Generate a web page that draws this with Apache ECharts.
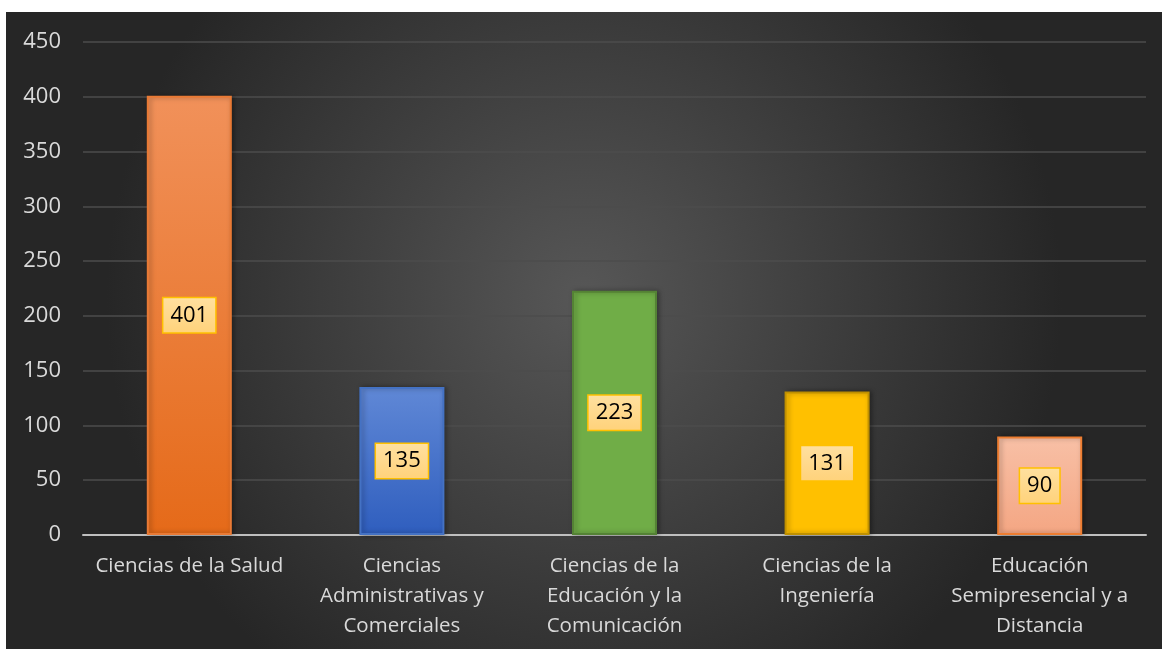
<!DOCTYPE html>
<html><head><meta charset="utf-8">
<script src="https://cdn.jsdelivr.net/npm/echarts@6/dist/echarts.min.js"></script>
<style>
html,body{margin:0;padding:0;background:#fff;width:1162px;height:649px;overflow:hidden;}
#c{position:absolute;left:6px;top:12px;width:1156px;height:637px;}
</style></head><body>
<div id="c"></div>
<script>
const categories = ["Ciencias de la Salud","Ciencias\nAdministrativas y\nComerciales","Ciencias de la\nEducación y la\nComunicación","Ciencias de la\nIngeniería","Educación\nSemipresencial y a\nDistancia"];
const values = [401, 135, 223, 131, 90];
const yTicks = {min:0, max:450, interval:50};

const barStyles = [
  {top:'#F1915A', bottom:'#E56A19', border:'#E97A35'},
  {top:'#6088D6', bottom:'#2F5EBE', border:'#4472C4'},
  {top:'#70AD47', bottom:'#70AD47', border:'#548235'},
  {top:'#FFC000', bottom:'#FFC000', border:'#BF9000'},
  {top:'#F8C0A6', bottom:'#F4A683', border:'#ED7D31'}
];
const chart = echarts.init(document.getElementById('c'));
chart.setOption({
  backgroundColor: {type:'radial', x:0.5, y:0.45, r:0.75, colorStops:[{offset:0,color:'#575757'},{offset:1,color:'#262626'}]},
  animation:false,
  grid:{left:77, right:16, top:30, bottom:114, containLabel:false},
  xAxis:{type:'category', data:categories,
    axisLine:{lineStyle:{color:'#BFBFBF', width:2}},
    axisTick:{show:false},
    axisLabel:{color:'#D9D9D9', fontSize:20.5, fontFamily:'Open Sans', lineHeight:30, margin:16, interval:0}
  },
  yAxis:{type:'value', min:yTicks.min, max:yTicks.max, interval:yTicks.interval,
    axisLine:{show:false}, axisTick:{show:false},
    axisLabel:{color:'#D9D9D9', fontSize:22, fontFamily:'Open Sans', margin:22},
    splitLine:{lineStyle:{color:'#4C4C4C', width:1.5}}
  },
  series:[{type:'bar', barWidth:'40%',
    data: values.map((v,i)=>({value:v, itemStyle:{
      color:{type:'linear',x:0,y:0,x2:0,y2:1,colorStops:[{offset:0,color:barStyles[i].top},{offset:1,color:barStyles[i].bottom}]},
      borderColor:barStyles[i].border, borderWidth:2,
      shadowColor:'rgba(0,0,0,0.35)', shadowBlur:5, shadowOffsetX:2, shadowOffsetY:0
    }})),
    label:{show:true, position:'inside', color:'#000', fontSize:22, fontFamily:'Open Sans',
      backgroundColor:{type:'linear',x:0,y:0,x2:0,y2:1,colorStops:[{offset:0,color:'#FFE0A0'},{offset:1,color:'#FFD27A'}]},
      borderColor:'#FFC000', borderWidth:1.5, padding:[7,7,5,7]}
  }]
});
</script></body></html>
